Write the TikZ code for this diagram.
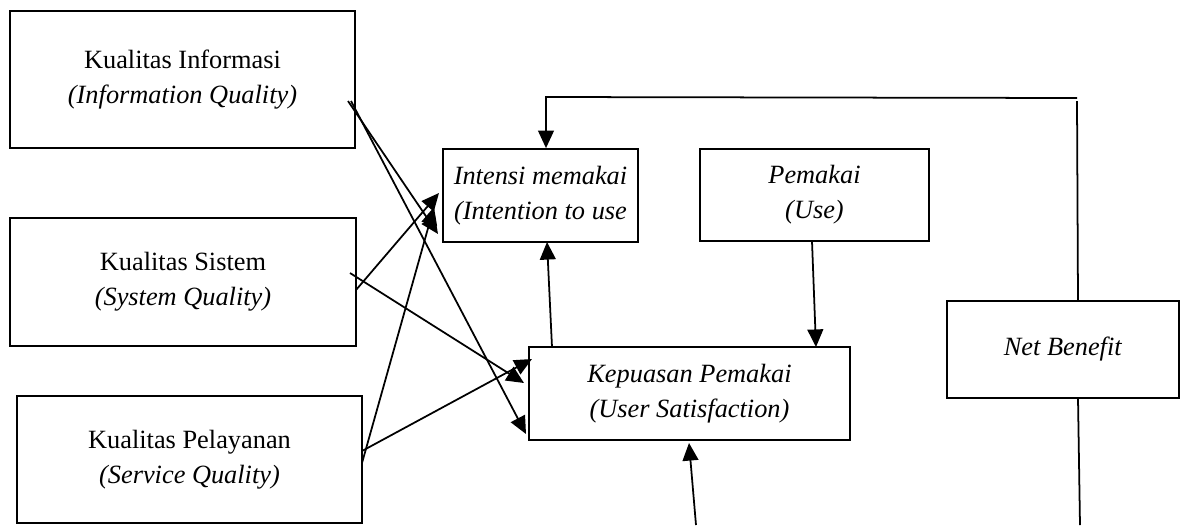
\documentclass[tikz,border=0pt]{standalone}
\usepackage{fontspec}
\setmainfont{Liberation Serif}
\usetikzlibrary{arrows.meta}
\begin{document}
\begin{tikzpicture}[x=0.02cm,y=-0.02cm,
  box/.style={draw,line width=1pt,rectangle,align=center,inner sep=0pt,
    font=\fontsize{15}{20}\selectfont},
  conn/.style={line width=1pt},
  arr/.style={line width=1pt,-{Triangle[length=10pt,width=9pt]}}]
\useasboundingbox (0,0) rectangle (1181,525);
% boxes
\node[box,minimum width=6.9cm,minimum height=2.74cm] (info) at (182.5,79.5)
  {Kualitas Informasi\\\textit{(Information Quality)}};
\node[box,minimum width=6.92cm,minimum height=2.56cm] (sys) at (183,282)
  {Kualitas Sistem\\\textit{(System Quality)}};
\node[box,minimum width=6.9cm,minimum height=2.54cm] (serv) at (189.5,459.5)
  {Kualitas Pelayanan\\\textit{(Service Quality)}};
\node[box,minimum width=3.9cm,minimum height=1.86cm] (intent) at (540.5,195.5)
  {\textit{Intensi memakai}\\\textit{(Intention to use}};
\node[box,minimum width=4.58cm,minimum height=1.84cm] (use) at (814.5,195)
  {\textit{Pemakai}\\\textit{(Use)}};
\node[box,minimum width=6.42cm,minimum height=1.86cm] (sat) at (689.5,393.5)
  {\textit{Kepuasan Pemakai}\\\textit{(User Satisfaction)}};
\node[box,minimum width=4.64cm,minimum height=1.94cm] (net) at (1063,349.5)
  {\textit{Net Benefit}};
% named points
\coordinate (iA) at (348,101);
\coordinate (iB) at (351,101);
\coordinate (sA) at (356,290);
\coordinate (sB) at (350,273);
\coordinate (pA) at (362,463);
\coordinate (pB) at (362,451);
\coordinate (tI1) at (438,234);
\coordinate (tI2) at (439,193);
\coordinate (tI3) at (434,207);
\coordinate (tS1) at (526,434);
\coordinate (tS2) at (524,383);
\coordinate (tS3) at (532,359);
\coordinate (fbR) at (1077,98);
\coordinate (fbRv) at (1077,101);
\coordinate (fbL) at (546,97);
\coordinate (netTop) at (1078,301);
\coordinate (netBot) at (1078,398);
\coordinate (botR) at (1080,525);
\coordinate (botS) at (696,525);
\coordinate (satB) at (689,443);
\coordinate (satT) at (552,347);
\coordinate (intB) at (547,242);
\coordinate (useB) at (812,241);
\coordinate (satT2) at (816,347);
% connectors
\draw[arr] (iA) -- (tI1);
\draw[arr] (iB) -- (tS1);
\draw[arr] (sA) -- (tI2);
\draw[arr] (sB) -- (tS2);
\draw[arr] (pA) -- (tI3);
\draw[arr] (pB) -- (tS3);
\draw[arr] (satT) -- (intB);
\draw[arr] (useB) -- (satT2);
\draw[arr] (botS) -- (satB);
\draw[conn] (netBot) -- (botR);
\draw[conn] (netTop) -- (fbRv);
\draw[arr] (fbR) -- (fbL) -- (fbL |- intent.north);
\end{tikzpicture}
\end{document}
